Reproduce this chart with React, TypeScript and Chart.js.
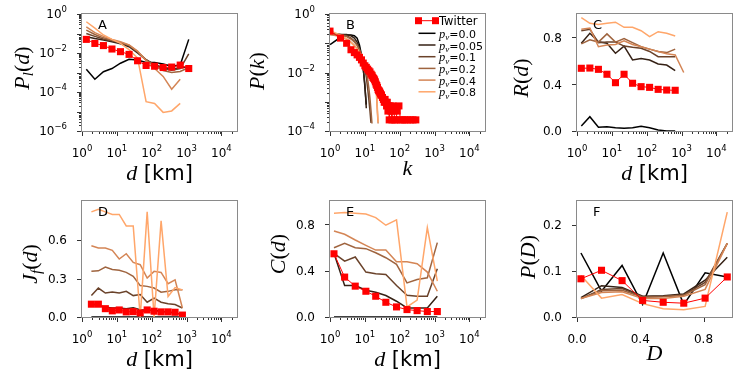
import React, { useEffect, useRef } from 'react';
import { Chart, registerables } from 'chart.js';
Chart.register(...registerables);

const W = 747;
const H = 374;
const SANS = '"DejaVu Sans", sans-serif';
const SERIF = '"Liberation Serif", "DejaVu Serif", serif';

// ---------- data ----------
const pvLabels = ['0.0', '0.05', '0.1', '0.2', '0.4', '0.8'];
const pvColors = ['#000000', '#352115', '#6a422a', '#9f643f', '#d48555', '#ffa66a'];
const RED = '#ff0000';

// distance bins (km)
const dBins = [1.33, 2.34, 4.12, 7.24, 12.7, 22.4, 39.3, 69.0, 121, 213, 374, 657, 1155];
const dBinsD = [1.86, 2.95, 4.68, 7.41, 11.7, 18.6, 29.5, 46.8, 74.1, 117, 186, 295, 468, 760];
const dBinsE = [1.3, 2.63, 5.3, 10.7, 20.5, 40, 81, 162, 316, 620, 1200];
const dBinsF = [0.025, 0.155, 0.285, 0.415, 0.545, 0.675, 0.81, 0.95];

// Panel A: P_l(d)
const twA = [0.05, 0.031, 0.024, 0.016, 0.0117, 0.0085, 0.004, 0.0023, 0.0021, 0.0018, 0.0019, 0.0024, 0.0016];
const p00A = [0.00145, 0.00045, 0.0011, 0.0016, 0.003, 0.0048, 0.0044, 0.0033, 0.0033, 0.0027, 0.0021, 0.0024, 0.05];
const p005A = [0.069, 0.056, 0.047, 0.038, 0.03, 0.021, 0.01, 0.0045, 0.0025, 0.0018, 0.0015, 0.0017, 0.002];
const p01A = [0.1, 0.071, 0.052, 0.042, 0.033, 0.024, 0.011, 0.0045, 0.0024, 0.0016, 0.0013, 0.0016, 0.0089];
const p02A = [0.15, 0.089, 0.06, 0.045, 0.035, 0.025, 0.012, 0.0045, 0.0022, 0.00126, 0.001, 0.00112, 0.0018];
const p04A = [0.22, 0.11, 0.071, 0.05, 0.038, 0.026, 0.0126, 0.004, 0.0016, 0.00063, 0.00014, 0.00045];
const p08A = [0.4, 0.19, 0.084, 0.05, 0.031, 0.015, 0.0054, 3.2e-5, 2.6e-5, 9e-6, 1.07e-5, 2.6e-5];

// Panel B: P(k)
const twK = [1, 2, 3, 4, 5, 6, 7, 8, 9, 10, 11, 12, 13, 14, 15, 16, 17, 18, 19, 20, 21, 22, 23, 24, 25, 26, 27, 28, 29, 30, 32, 34, 36, 38, 40, 42, 44, 46, 48, 50, 53, 56, 60, 64, 68, 72, 78, 85, 95, 105, 120, 140, 165, 200, 240, 290];
const twB = [0.26, 0.15, 0.1, 0.06, 0.048, 0.04, 0.033, 0.027, 0.021, 0.017, 0.015, 0.013, 0.0115, 0.0105, 0.0088, 0.0078, 0.0068, 0.0062, 0.0056, 0.0048, 0.004, 0.0036, 0.0031, 0.0026, 0.0024, 0.0023, 0.0021, 0.0019, 0.0017, 0.0017, 0.0014, 0.0012, 0.00096, 0.0012, 0.00096, 0.00072, 0.00096, 0.00048, 0.00072, 0.00024, 0.00072, 0.00048, 0.00024, 0.00072, 0.00048, 0.00024, 0.00024, 0.00048, 0.00072, 0.00024, 0.00024, 0.00024, 0.00024, 0.00024, 0.00024, 0.00024];
const kB00 = [1, 2, 3, 4, 5, 6, 7, 8, 9, 10, 11];
const p00B = [0.09, 0.16, 0.19, 0.19, 0.18, 0.15, 0.087, 0.04, 0.014, 0.0033, 0.0008];
const kB005 = [1, 2, 3, 4, 5, 6, 7, 8, 9, 10, 11];
const p005B = [0.21, 0.2, 0.2, 0.18, 0.15, 0.11, 0.07, 0.035, 0.013, 0.004, 0.0006];
const kB01 = [1, 2, 3, 4, 5, 6, 7, 8, 9, 10, 11, 12, 13, 14, 15];
const p01B = [0.22, 0.2, 0.18, 0.15, 0.12, 0.09, 0.06, 0.04, 0.025, 0.014, 0.007, 0.003, 0.0012, 0.0005, 0.00019];
const kB02 = [1, 2, 3, 4, 5, 6, 7, 8, 9, 10, 11, 12, 13, 14, 15, 16];
const p02B = [0.2, 0.19, 0.17, 0.14, 0.11, 0.085, 0.06, 0.042, 0.028, 0.018, 0.011, 0.006, 0.003, 0.0013, 0.0005, 0.00018];
const kB04 = [1, 2, 3, 4, 5, 6, 7, 8, 9, 10, 11, 12, 13, 14, 15, 16, 17, 18, 19, 20, 21, 22, 23, 24];
const p04B = [0.2, 0.17, 0.14, 0.11, 0.085, 0.065, 0.05, 0.038, 0.03, 0.024, 0.02, 0.016, 0.013, 0.011, 0.0095, 0.0085, 0.008, 0.0078, 0.0075, 0.006, 0.003, 0.0011, 0.0004, 0.00018];
const kB08 = [1, 2, 3, 4, 5, 6, 7, 8, 9, 10, 11, 12, 13, 14, 15, 16, 17, 18, 19, 20, 21, 22, 23, 24];
const p08B = [0.27, 0.19, 0.14, 0.105, 0.08, 0.062, 0.048, 0.038, 0.03, 0.024, 0.019, 0.016, 0.013, 0.011, 0.0095, 0.009, 0.0095, 0.01, 0.0105, 0.0085, 0.004, 0.0015, 0.0005, 0.0002];

// Panel C: R(d)
const twC = [0.536, 0.538, 0.527, 0.485, 0.413, 0.485, 0.408, 0.379, 0.373, 0.356, 0.35, 0.348];
const p00C = [0.043, 0.122, 0.032, 0.037, 0.028, 0.023, 0.028, 0.04, 0.028, 0.009, 0.0, 0.0];
const p005C = [0.75, 0.835, 0.763, 0.75, 0.664, 0.726, 0.607, 0.62, 0.607, 0.573, 0.564, 0.515];
const p01C = [0.857, 0.87, 0.755, 0.76, 0.76, 0.726, 0.715, 0.707, 0.68, 0.635, 0.635, 0.635];
const p02C = [0.744, 0.78, 0.76, 0.83, 0.76, 0.79, 0.755, 0.72, 0.7, 0.68, 0.67, 0.7];
const p04C = [0.87, 0.88, 0.72, 0.735, 0.74, 0.77, 0.74, 0.72, 0.7, 0.68, 0.66, 0.65, 0.5];
const p08C = [0.97, 0.92, 0.91, 0.92, 0.93, 0.886, 0.886, 0.857, 0.806, 0.849, 0.835, 0.812];

// Panel D: J_f(d)
const twD = [0.1, 0.1, 0.065, 0.048, 0.055, 0.04, 0.042, 0.032, 0.055, 0.045, 0.04, 0.04, 0.037, 0.015];
const p00D = [0, 0, 0, 0, 0, 0, 0, 0, 0, 0, 0, 0, 0, 0];
const p005D = [0.104, 0.089, 0.076, 0.07, 0.07, 0.065, 0.073, 0.057, 0.052, 0.052, 0.044, 0.037, 0.031, 0.019];
const p01D = [0.167, 0.226, 0.187, 0.195, 0.187, 0.2, 0.167, 0.175, 0.115, 0.148, 0.115, 0.104, 0.097, 0.07];
const p02D = [0.356, 0.36, 0.39, 0.37, 0.364, 0.348, 0.317, 0.245, 0.239, 0.226, 0.193, 0.2, 0.213, 0.213];
const p04D = [0.556, 0.538, 0.538, 0.52, 0.452, 0.494, 0.426, 0.408, 0.304, 0.356, 0.348, 0.26, 0.29, 0.07];
const p08D = [0.82, 0.84, 0.82, 0.8, 0.8, 0.71, 0.71, 0.0, 0.82, 0.0, 0.75, 0.16, 0.23, 0.21];

// Panel E: C(d)
const twE = [0.545, 0.344, 0.266, 0.222, 0.179, 0.127, 0.087, 0.064, 0.055, 0.047, 0.047];
const p00E = [0, 0, 0, 0, 0, 0, 0, 0, 0, 0, 0];
const p005E = [0.549, 0.272, 0.272, 0.231, 0.214, 0.185, 0.136, 0.078, 0.078, 0.078, 0.179];
const p01E = [0.549, 0.482, 0.517, 0.387, 0.372, 0.367, 0.272, 0.188, 0.179, 0.179, 0.416];
const p02E = [0.597, 0.635, 0.597, 0.589, 0.554, 0.511, 0.454, 0.294, 0.324, 0.338, 0.641];
const p04E = [0.742, 0.713, 0.664, 0.618, 0.577, 0.577, 0.476, 0.476, 0.459, 0.387, 0.222];
const p08E = [0.895, 0.9, 0.895, 0.887, 0.857, 0.791, 0.837, 0.087, 0.145, 0.771, 0.309];

// Panel F: P(D)
const twF = [0.083, 0.1015, 0.079, 0.036, 0.032, 0.03, 0.041, 0.087];
const p00F = [0.139, 0.056, 0.112, 0.027, 0.139, 0.027, 0.096, 0.087];
const p005F = [0.042, 0.068, 0.064, 0.045, 0.046, 0.05, 0.08, 0.13];
const p01F = [0.04, 0.06, 0.062, 0.044, 0.045, 0.048, 0.075, 0.16];
const p02F = [0.04, 0.057, 0.058, 0.043, 0.044, 0.047, 0.07, 0.16];
const p04F = [0.04, 0.053, 0.055, 0.04, 0.04, 0.045, 0.06, 0.16];
const p08F = [0.09, 0.041, 0.049, 0.029, 0.018, 0.016, 0.023, 0.228];

// tick labels
const logXLabelExps = [0, 1, 2, 3, 4];
const yLabelExpsA = [0, -2, -4, -6];
const yLabelExpsB = [0, -2, -4];
const yTicksC = [0, 0.4, 0.8];
const yTicksD = [0, 0.3, 0.6];
const yTicksE = [0, 0.4, 0.8];
const yTicksF = [0, 0.1, 0.2];
const xTicksF = [0, 0.4, 0.8];

// ---------- helpers ----------
type Seg = { t: string; font: string; dy?: number };
const it = (t: string, s: number, dy = 0): Seg => ({ t, font: `italic ${s}px ${SERIF}`, dy });
const rm = (t: string, s: number, dy = 0): Seg => ({ t, font: `${s}px ${SERIF}`, dy });
const sf = (t: string, s: number, dy = 0): Seg => ({ t, font: `${s}px ${SANS}`, dy });

function richWidth(ctx: CanvasRenderingContext2D, segs: Seg[]) {
  let w = 0;
  for (const s of segs) {
    ctx.font = s.font;
    w += ctx.measureText(s.t).width;
  }
  return w;
}

function drawRich(ctx: CanvasRenderingContext2D, segs: Seg[], x: number, y: number, align: 'left' | 'center' | 'right', angle = 0, color = '#000') {
  ctx.save();
  ctx.translate(x, y);
  if (angle) ctx.rotate(angle);
  const w = richWidth(ctx, segs);
  let cx = align === 'center' ? -w / 2 : align === 'right' ? -w : 0;
  ctx.textAlign = 'left';
  ctx.textBaseline = 'alphabetic';
  ctx.fillStyle = color;
  for (const s of segs) {
    ctx.font = s.font;
    ctx.fillText(s.t, cx, s.dy || 0);
    cx += ctx.measureText(s.t).width;
  }
  ctx.restore();
}

const pts = (xs: number[], ys: number[]) => ys.map((y, i) => ({ x: xs[i], y }));

const twSet = (data: { x: number; y: number }[]) => ({
  data,
  borderColor: RED,
  backgroundColor: RED,
  borderWidth: 1,
  pointStyle: 'rect',
  pointRadius: 5,
  pointBorderWidth: 0,
  pointBackgroundColor: RED,
  tension: 0,
  clip: 0,
});
const lineSet = (data: { x: number; y: number }[], i: number) => ({
  data,
  borderColor: pvColors[i],
  backgroundColor: pvColors[i],
  borderWidth: 1.5,
  pointRadius: 0,
  tension: 0,
  clip: 0,
  fill: false,
});

function logTicks(min: number, max: number) {
  const majors: number[] = [];
  const minors: number[] = [];
  for (let e = Math.floor(Math.log10(min)); e <= Math.ceil(Math.log10(max)); e++) {
    for (let m = 1; m <= 9; m++) {
      const v = m * Math.pow(10, e);
      if (v < min * 0.999 || v > max * 1.001) continue;
      (m === 1 ? majors : minors).push(v);
    }
  }
  return { majors, minors };
}

const expLabel = (e: number): Seg[] => [sf('10', 12), sf(e < 0 ? '\u2212' + Math.abs(e) : String(e), 8.5, -6)];

interface Panel {
  key: string;
  area: { l: number; t: number; r: number; b: number };
  xLog: boolean;
  xMin: number;
  xMax: number;
  yLog: boolean;
  yMin: number;
  yMax: number;
  xLin?: number[];
  yLin?: number[];
  yExps?: number[];
  yTitle: Seg[];
  yTitlePos: [number, number];
  xTitle: Seg[];
  xTitlePos: [number, number];
  letter: string;
  legend?: boolean;
  datasets: any[];
}

const dTitle = [it('d', 22), sf(' [km]', 21)];
const XMAXLOG = 28000;

const panels: Panel[] = [
  {
    key: 'A', area: { l: 82, t: 14, r: 237, b: 131 },
    xLog: true, xMin: 1, xMax: XMAXLOG, yLog: true, yMin: 1e-6, yMax: 1, yExps: yLabelExpsA,
    yTitle: [it('P', 22), it('l', 15, 4), rm('(', 22), it('d', 22), rm(')', 22)], yTitlePos: [29, 68],
    xTitle: dTitle, xTitlePos: [159.5, 179.5], letter: 'A',
    datasets: [twSet(pts(dBins, twA)), lineSet(pts(dBins, p08A), 5), lineSet(pts(dBins, p04A), 4), lineSet(pts(dBins, p02A), 3), lineSet(pts(dBins, p01A), 2), lineSet(pts(dBins, p005A), 1), lineSet(pts(dBins, p00A), 0)],
  },
  {
    key: 'B', area: { l: 330, t: 14, r: 485, b: 131 },
    xLog: true, xMin: 1, xMax: XMAXLOG, yLog: true, yMin: 1e-4, yMax: 1, yExps: yLabelExpsB,
    yTitle: [it('P', 22), rm('(', 22), it('k', 22), rm(')', 22)], yTitlePos: [263.5, 71],
    xTitle: [it('k', 22)], xTitlePos: [407.5, 175], letter: 'B', legend: true,
    datasets: [twSet(pts(twK, twB)), lineSet(pts(kB08, p08B), 5), lineSet(pts(kB04, p04B), 4), lineSet(pts(kB02, p02B), 3), lineSet(pts(kB01, p01B), 2), lineSet(pts(kB005, p005B), 1), lineSet(pts(kB00, p00B), 0)],
  },
  {
    key: 'C', area: { l: 577, t: 14, r: 732, b: 131 },
    xLog: true, xMin: 1, xMax: XMAXLOG, yLog: false, yMin: 0, yMax: 1.0, yLin: yTicksC,
    yTitle: [it('R', 22), rm('(', 22), it('d', 22), rm(')', 22)], yTitlePos: [528, 78],
    xTitle: dTitle, xTitlePos: [654.5, 179.5], letter: 'C',
    datasets: [twSet(pts(dBins, twC)), lineSet(pts(dBins, p08C), 5), lineSet(pts(dBins, p04C), 4), lineSet(pts(dBins, p02C), 3), lineSet(pts(dBins, p01C), 2), lineSet(pts(dBins, p005C), 1), lineSet(pts(dBins, p00C), 0)],
  },
  {
    key: 'D', area: { l: 82, t: 201, r: 237, b: 317 },
    xLog: true, xMin: 1, xMax: XMAXLOG, yLog: false, yMin: 0, yMax: 0.905, yLin: yTicksD,
    yTitle: [it('J', 22), it('f', 15, 4), rm('(', 22), it('d', 22), rm(')', 22)], yTitlePos: [37, 264],
    xTitle: dTitle, xTitlePos: [159.5, 365.5], letter: 'D',
    datasets: [twSet(pts(dBinsD, twD)), lineSet(pts(dBinsD, p08D), 5), lineSet(pts(dBinsD, p04D), 4), lineSet(pts(dBinsD, p02D), 3), lineSet(pts(dBinsD, p01D), 2), lineSet(pts(dBinsD, p005D), 1), lineSet(pts(dBinsD, p00D), 0)],
  },
  {
    key: 'E', area: { l: 330, t: 201, r: 485, b: 317 },
    xLog: true, xMin: 1, xMax: XMAXLOG, yLog: false, yMin: 0, yMax: 1.0, yLin: yTicksE,
    yTitle: [it('C', 22), rm('(', 22), it('d', 22), rm(')', 22)], yTitlePos: [285, 254],
    xTitle: dTitle, xTitlePos: [407.5, 365.5], letter: 'E',
    datasets: [twSet(pts(dBinsE, twE)), lineSet(pts(dBinsE, p08E), 5), lineSet(pts(dBinsE, p04E), 4), lineSet(pts(dBinsE, p02E), 3), lineSet(pts(dBinsE, p01E), 2), lineSet(pts(dBinsE, p005E), 1), lineSet(pts(dBinsE, p00E), 0)],
  },
  {
    key: 'F', area: { l: 577, t: 201, r: 732, b: 317 },
    xLog: false, xMin: 0, xMax: 0.98, xLin: xTicksF, yLog: false, yMin: 0, yMax: 0.252, yLin: yTicksF,
    yTitle: [it('P', 22), rm('(', 22), it('D', 22), rm(')', 22)], yTitlePos: [535, 257],
    xTitle: [it('D', 22)], xTitlePos: [654.5, 360], letter: 'F',
    datasets: [twSet(pts(dBinsF, twF)), lineSet(pts(dBinsF, p08F), 5), lineSet(pts(dBinsF, p04F), 4), lineSet(pts(dBinsF, p02F), 3), lineSet(pts(dBinsF, p01F), 2), lineSet(pts(dBinsF, p005F), 1), lineSet(pts(dBinsF, p00F), 0)],
  },
];

const SPINE = '#8a8a8a';
const TICK = '#333333';
const MAJ = 5;
const MIN = 3;

function decorPlugin(p: Panel) {
  return {
    id: 'decor' + p.key,
    afterDraw(chart: any) {
      const ctx: CanvasRenderingContext2D = chart.ctx;
      const xs = chart.scales.x;
      const ys = chart.scales.y;
      const { l, t, r, b } = p.area;
      ctx.save();
      // ticks
      ctx.strokeStyle = TICK;
      ctx.lineWidth = 1;
      const vTick = (v: number, len: number) => {
        const px = Math.round(xs.getPixelForValue(v)) + 0.5;
        ctx.beginPath();
        ctx.moveTo(px, b);
        ctx.lineTo(px, b + len);
        ctx.stroke();
      };
      const hTick = (v: number, len: number) => {
        const py = Math.round(ys.getPixelForValue(v)) + 0.5;
        ctx.beginPath();
        ctx.moveTo(l, py);
        ctx.lineTo(l - len, py);
        ctx.stroke();
      };
      if (p.xLog) {
        const { majors, minors } = logTicks(p.xMin, p.xMax);
        minors.forEach((v) => vTick(v, MIN));
        majors.forEach((v) => vTick(v, MAJ));
      } else {
        (p.xLin || []).forEach((v) => vTick(v, MAJ));
      }
      if (p.yLog) {
        const { majors, minors } = logTicks(p.yMin, p.yMax);
        minors.forEach((v) => hTick(v, MIN));
        majors.forEach((v) => hTick(v, MAJ));
      } else {
        (p.yLin || []).forEach((v) => hTick(v, MAJ));
      }
      // spines
      ctx.strokeStyle = SPINE;
      ctx.strokeRect(l - 0.5, t - 0.5, r - l + 1, b - t + 1);
      // tick labels
      const xBase = b + 25.5;
      if (p.xLog) {
        logXLabelExps.forEach((e) => drawRich(ctx, expLabel(e), xs.getPixelForValue(Math.pow(10, e)), xBase, 'center'));
      } else {
        (p.xLin || []).forEach((v) => drawRich(ctx, [sf(v.toFixed(1), 12)], xs.getPixelForValue(v), xBase, 'center'));
      }
      if (p.yLog) {
        (p.yExps || []).forEach((e) => drawRich(ctx, expLabel(e), l - 15, ys.getPixelForValue(Math.pow(10, e)) + 4.3, 'right'));
      } else {
        (p.yLin || []).forEach((v) => drawRich(ctx, [sf(v.toFixed(1), 12)], l - 15, ys.getPixelForValue(v) + 4.3, 'right'));
      }
      // axis titles
      drawRich(ctx, p.xTitle, p.xTitlePos[0], p.xTitlePos[1], 'center');
      drawRich(ctx, p.yTitle, p.yTitlePos[0], p.yTitlePos[1], 'center', -Math.PI / 2);
      // panel letter
      drawRich(ctx, [sf(p.letter, 13)], l + 16, t + 15.3, 'left');
      // legend
      if (p.legend) {
        const rowsY = [20.7, 33.3, 45, 56.7, 68.4, 80.1, 91.8];
        const x0 = 418.5;
        const x1 = 435.5;
        const tx = 439;
        // Twitter entry
        ctx.strokeStyle = RED;
        ctx.lineWidth = 1;
        ctx.beginPath();
        ctx.moveTo(x0, rowsY[0]);
        ctx.lineTo(x1, rowsY[0]);
        ctx.stroke();
        ctx.fillStyle = RED;
        ctx.fillRect(x0 - 3.5, rowsY[0] - 3.5, 7, 7);
        ctx.fillRect(x1 - 3.5, rowsY[0] - 3.5, 7, 7);
        drawRich(ctx, [sf('Twitter', 11.5)], tx, rowsY[0] + 4.3, 'left');
        pvLabels.forEach((lab, i) => {
          const y = rowsY[i + 1];
          ctx.strokeStyle = pvColors[i];
          ctx.lineWidth = 1.5;
          ctx.beginPath();
          ctx.moveTo(x0, y);
          ctx.lineTo(x1, y);
          ctx.stroke();
          drawRich(ctx, [it('p', 12.5), it('v', 9, 2.5), sf('=' + lab, 11)], tx, y + 4.5, 'left');
        });
      }
      ctx.restore();
    },
  };
}

function makeChart(canvas: HTMLCanvasElement, p: Panel) {
  const { l, t, r, b } = p.area;
  return new Chart(canvas, {
    type: 'line',
    data: { datasets: p.datasets },
    options: {
      responsive: false,
      animation: false,
      events: [],
      layout: { padding: { left: l, top: t, right: W - r, bottom: H - b } },
      plugins: { legend: { display: false }, tooltip: { enabled: false } },
      scales: {
        x: { type: p.xLog ? 'logarithmic' : 'linear', min: p.xMin, max: p.xMax, display: false },
        y: { type: p.yLog ? 'logarithmic' : 'linear', min: p.yMin, max: p.yMax, display: false },
      },
    } as any,
    plugins: [decorPlugin(p)],
  });
}

export default function App() {
  const refs = useRef<(HTMLCanvasElement | null)[]>([]);
  useEffect(() => {
    const charts = panels.map((p, i) => makeChart(refs.current[i] as HTMLCanvasElement, p));
    return () => charts.forEach((c) => c.destroy());
  }, []);
  return (
    <div style={{ position: 'fixed', left: 0, top: 0, width: W, height: H, background: '#ffffff' }}>
      {panels.map((p, i) => (
        <canvas
          key={p.key}
          ref={(el) => {
            refs.current[i] = el;
          }}
          width={W}
          height={H}
          style={{ position: 'absolute', left: 0, top: 0 }}
        />
      ))}
    </div>
  );
}
